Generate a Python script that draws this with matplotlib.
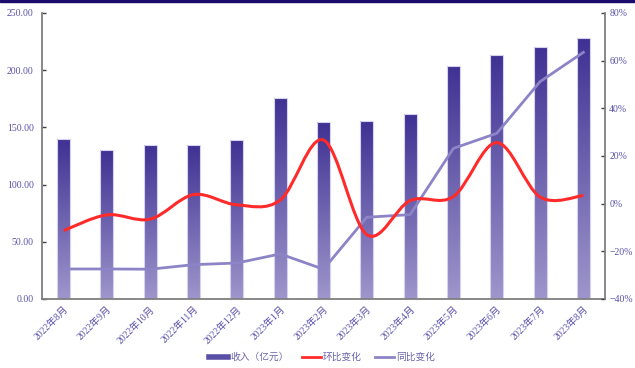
import matplotlib.pyplot as plt
import numpy as np
from matplotlib.path import Path
from matplotlib.patches import PathPatch, Rectangle
from matplotlib.lines import Line2D
from matplotlib.colors import LinearSegmentedColormap

months = ["2022年8月", "2022年9月", "2022年10月", "2022年11月", "2022年12月",
          "2023年1月", "2023年2月", "2023年3月", "2023年4月", "2023年5月",
          "2023年6月", "2023年7月", "2023年8月"]
revenue = [139.6, 130.2, 134.9, 134.6, 138.7, 176.0, 154.4, 155.3, 161.7,
           203.9, 213.6, 220.5, 227.8]
mom = [-11.3, -4.7, -6.5, 3.8, -0.5, 1.5, 26.7, -13.0, 1.3, 3.0, 25.6, 2.8, 3.4]
yoy = [-27.4, -27.4, -27.5, -25.6, -24.9, -21.1, -27.5, -5.7, -4.6, 23.2,
       29.5, 51.2, 63.5]

label_color = "#5a50aa"
serif_cjk = ["Liberation Serif", "Noto Sans CJK SC"]

fig = plt.figure(figsize=(6.35, 3.68), dpi=100)
ax = fig.add_axes([0.0661, 0.1875, 0.8867, 0.7772])
ax2 = ax.twinx()

# navy strip along the top edge
fig.patches.append(Rectangle((0, 0.994), 1, 0.006, transform=fig.transFigure,
                             color="#1b0b6b", zorder=5))

x = np.arange(len(months))
bars = ax.bar(x, revenue, width=0.3, color="none", edgecolor="#d6d1ee",
              linewidth=0.8, zorder=2)

# vertical gradient fill for each bar
cmap = LinearSegmentedColormap.from_list("rev", ["#9e96cb", "#3f3193"])
grad = np.linspace(0, 1, 256).reshape(-1, 1)
for b in bars:
    x0, y0 = b.get_x(), b.get_y()
    im = ax.imshow(grad, cmap=cmap, origin="lower", aspect="auto",
                   extent=[x0, x0 + b.get_width(), y0, y0 + b.get_height()],
                   zorder=1)
    im.set_clip_path(b)

ax.set_xlim(-0.5, 12.5)
ax.set_ylim(0, 250)
ax.set_yticks(np.arange(0, 251, 50))
ax.set_yticklabels([f"{v:.2f}" for v in np.arange(0, 251, 50)])
ax.set_xticks(x)
ax.set_xticklabels(months, rotation=45, ha="right", rotation_mode="anchor")


def smooth_path(xs, ys):
    # Catmull-Rom style Bezier segments through every point
    pts = np.column_stack([xs, ys]).astype(float)
    n = len(pts)
    verts = [pts[0]]
    codes = [Path.MOVETO]
    for i in range(n - 1):
        p0 = pts[max(i - 1, 0)]
        p1 = pts[i]
        p2 = pts[i + 1]
        p3 = pts[min(i + 2, n - 1)]
        c1 = p1 + (p2 - p0) / 6
        c2 = p2 - (p3 - p1) / 6
        verts += [c1, c2, p2]
        codes += [Path.CURVE4] * 3
    return Path(verts, codes)


ax2.add_patch(PathPatch(smooth_path(x, mom), facecolor="none",
                        edgecolor="#ff2a2a", linewidth=2.2, zorder=4))
ax2.plot(x, yoy, color="#8c84c6", linewidth=2, zorder=3)
ax2.set_ylim(-40, 80)
ax2.set_yticks(np.arange(-40, 81, 20))
ax2.set_yticklabels([f"{v}%".replace("-", "−") for v in range(-40, 81, 20)])

for a in (ax, ax2):
    a.spines["top"].set_visible(False)
    for s in ("left", "right", "bottom"):
        a.spines[s].set_color("#7f7f7f")
        a.spines[s].set_linewidth(1.3)
    a.tick_params(axis="y", direction="in", length=3, width=1,
                  color="#404040", labelcolor=label_color, labelsize=7)
    for t in a.get_yticklabels():
        t.set_family(serif_cjk)
ax.tick_params(axis="y", pad=6)
ax2.tick_params(axis="y", pad=3)
ax.tick_params(axis="x", length=0, labelcolor=label_color, labelsize=7, pad=4)
for t in ax.get_xticklabels():
    t.set_family(serif_cjk)
ax.set_zorder(ax2.get_zorder() - 1)
ax2.patch.set_visible(False)
ax.spines["right"].set_visible(False)
ax2.spines["left"].set_visible(False)
ax2.spines["bottom"].set_visible(False)

handles = [Line2D([], [], color="#5a4fa6", linewidth=4),
           Line2D([], [], color="#ff2a2a", linewidth=2),
           Line2D([], [], color="#8c84c6", linewidth=2)]
fig.legend(handles, ["收入（亿元）", "环比变化", "同比变化"], loc="center",
           bbox_to_anchor=(0.507, 0.03), ncol=3, frameon=False,
           handlelength=2.0, columnspacing=1.3, handletextpad=0.2,
           prop={"family": "Noto Sans CJK SC", "size": 7}, labelcolor="#6a63aa")

fig.savefig("out.png", dpi=100)
